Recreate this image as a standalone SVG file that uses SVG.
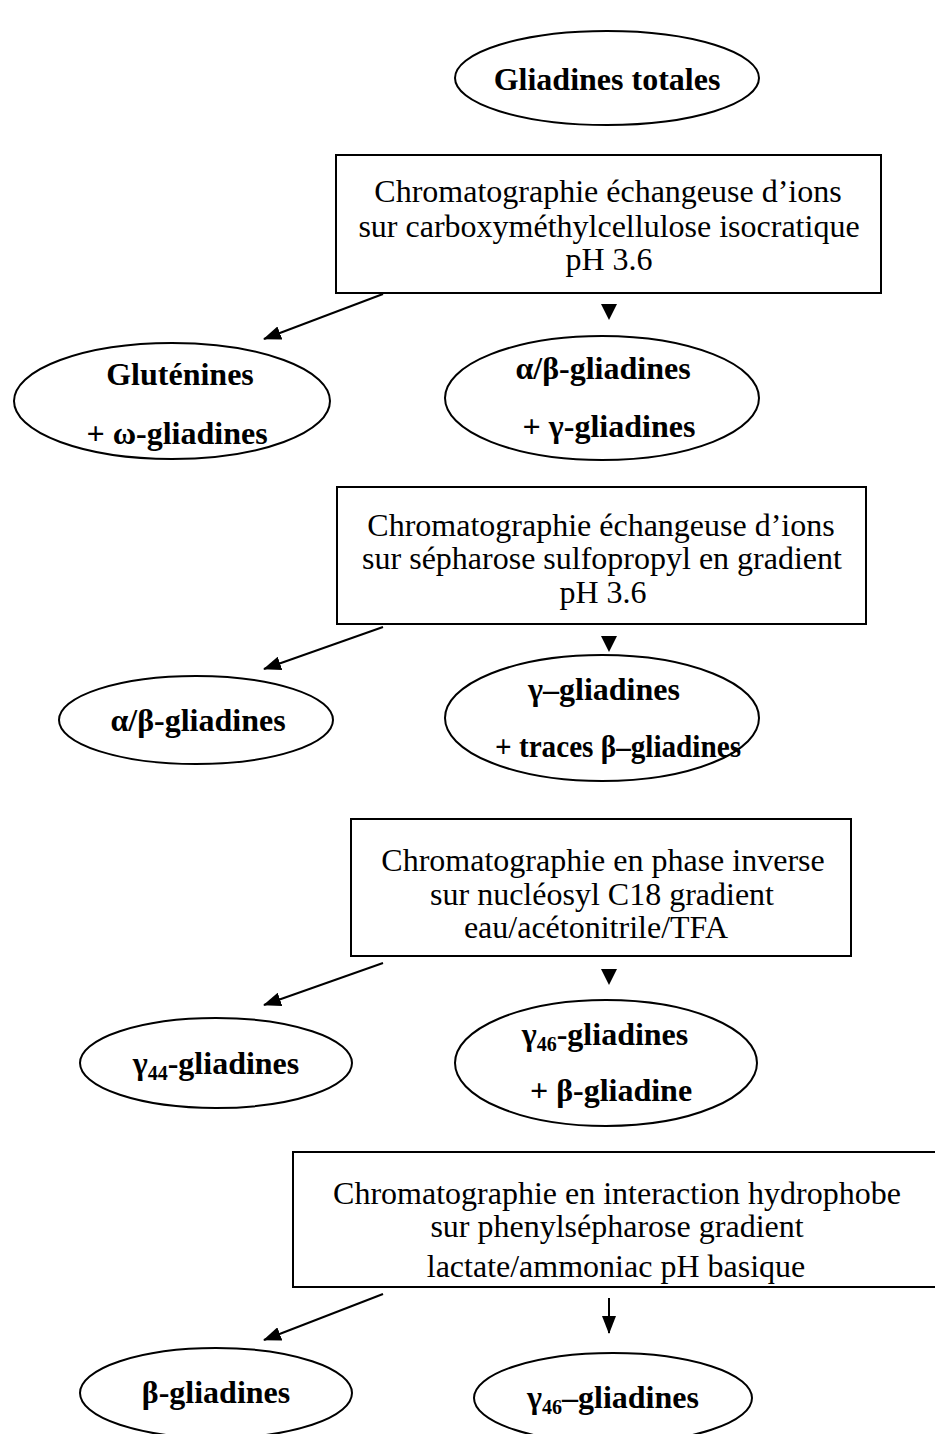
<svg xmlns="http://www.w3.org/2000/svg" width="935" height="1434" viewBox="0 0 935 1434">
<style>
.bg{fill:#fff}
.n{fill:#fff;stroke:#000;stroke-width:2}
.t{font-family:"Liberation Serif","Times New Roman",serif;font-size:32px;fill:#000;text-anchor:middle}
.b{font-family:"Liberation Serif","Times New Roman",serif;font-size:32px;font-weight:bold;fill:#000;text-anchor:middle}
.s{font-size:20px}
.c{stroke:#000;stroke-width:2;fill:none}
.tri{fill:#000}
</style>
<defs>
<marker id="ah2" markerWidth="18" markerHeight="14" refX="17" refY="7" orient="auto" markerUnits="userSpaceOnUse" viewBox="0 0 18 14">
<path d="M0,0 L18,7 L0,14 z" fill="#000"/>
</marker>
</defs>
<rect class="bg" x="0" y="0" width="935" height="1434"/>

<g id="connectors">
<line class="c" x1="383" y1="294" x2="264" y2="339" marker-end="url(#ah2)"/>
<path class="tri" d="M601,304 L617,304 L609,320 z"/>
<line class="c" x1="383" y1="627" x2="264" y2="669" marker-end="url(#ah2)"/>
<path class="tri" d="M601,636 L617,636 L609,652 z"/>
<line class="c" x1="383" y1="963" x2="264" y2="1005" marker-end="url(#ah2)"/>
<path class="tri" d="M601,969 L617,969 L609,985 z"/>
<line class="c" x1="383" y1="1294" x2="264" y2="1340" marker-end="url(#ah2)"/>
<line class="c" x1="609" y1="1298" x2="609" y2="1333" marker-end="url(#ah2)"/>
</g>

<g id="n_gliadines_totales">
<ellipse class="n" cx="607" cy="78" rx="152" ry="47"/>
<text class="b" x="607" y="90">Gliadines totales</text>
</g>

<g id="box1">
<rect class="n" x="336" y="155" width="545" height="138"/>
<text class="t" x="608" y="202">Chromatographie échangeuse d’ions</text>
<text class="t" x="609" y="237">sur carboxyméthylcellulose isocratique</text>
<text class="t" x="609" y="270">pH 3.6</text>
</g>

<g id="n_glutenines">
<ellipse class="n" cx="172" cy="401" rx="158" ry="58"/>
<text class="b" x="180" y="385">Gluténines</text>
<text class="b" x="177" y="444">+ ω-gliadines</text>
</g>

<g id="n_ab_g">
<ellipse class="n" cx="602" cy="398" rx="157" ry="62"/>
<text class="b" x="603" y="379">α/β-gliadines</text>
<text class="b" x="609" y="437">+ γ-gliadines</text>
</g>

<g id="box2">
<rect class="n" x="337" y="487" width="529" height="137"/>
<text class="t" x="601" y="536">Chromatographie échangeuse d’ions</text>
<text class="t" x="602" y="569">sur sépharose sulfopropyl en gradient</text>
<text class="t" x="603" y="603">pH 3.6</text>
</g>

<g id="n_ab">
<ellipse class="n" cx="196" cy="720" rx="137" ry="44"/>
<text class="b" x="198" y="731">α/β-gliadines</text>
</g>

<g id="n_g_traces">
<ellipse class="n" cx="602" cy="718" rx="157" ry="63"/>
<text class="b" x="604" y="700">γ–gliadines</text>
<text class="b" x="618" y="757" textLength="246" lengthAdjust="spacingAndGlyphs">+ traces β–gliadines</text>
</g>

<g id="box3">
<rect class="n" x="351" y="819" width="500" height="137"/>
<text class="t" x="603" y="871">Chromatographie en phase inverse</text>
<text class="t" x="602" y="905">sur nucléosyl C18 gradient</text>
<text class="t" x="596" y="938">eau/acétonitrile/TFA</text>
</g>

<g id="n_g44">
<ellipse class="n" cx="216" cy="1063" rx="136" ry="45"/>
<text class="b" x="216" y="1074">γ<tspan class="s" dy="6">44</tspan><tspan dy="-6">-gliadines</tspan></text>
</g>

<g id="n_g46_b">
<ellipse class="n" cx="606" cy="1063" rx="151" ry="63"/>
<text class="b" x="605" y="1045">γ<tspan class="s" dy="6">46</tspan><tspan dy="-6">-gliadines</tspan></text>
<text class="b" x="611" y="1101">+ β-gliadine</text>
</g>

<g id="box4">
<rect class="n" x="293" y="1152" width="660" height="135"/>
<text class="t" x="617" y="1204">Chromatographie en interaction hydrophobe</text>
<text class="t" x="617" y="1237">sur phenylsépharose gradient</text>
<text class="t" x="616" y="1277">lactate/ammoniac pH basique</text>
</g>

<g id="n_b">
<ellipse class="n" cx="216" cy="1393" rx="136" ry="45"/>
<text class="b" x="216" y="1403">β-gliadines</text>
</g>

<g id="n_g46">
<ellipse class="n" cx="613" cy="1398" rx="139" ry="45"/>
<text class="b" x="613" y="1408">γ<tspan class="s" dy="6">46</tspan><tspan dy="-6">–gliadines</tspan></text>
</g>
</svg>
